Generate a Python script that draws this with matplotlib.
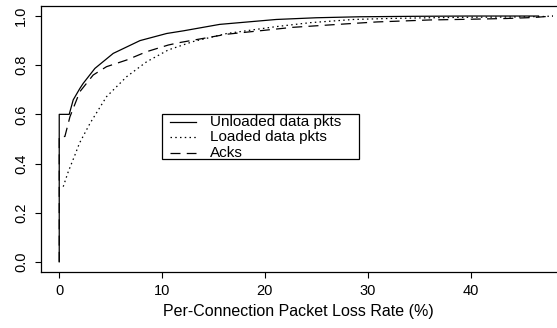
import matplotlib
matplotlib.use("Agg")
import matplotlib.pyplot as plt
from matplotlib.lines import Line2D
from matplotlib.patches import Rectangle

plt.rcParams['font.family'] = ['Liberation Sans', 'DejaVu Sans']

# 曲线数据
unloaded_x = [0, 0, 0.97, 1.36, 2.0, 2.33, 3.47, 5.25, 7.85, 10.45, 12.1, 15.6, 21.1, 25, 29.2, 35, 40, 46.6]
unloaded_y = [0, 0.6, 0.6, 0.659, 0.705, 0.726, 0.787, 0.848, 0.90, 0.929, 0.94, 0.966, 0.986, 0.993, 0.997, 0.999, 1.0, 1.0]

loaded_x = [0.39, 0.88, 1.53, 1.97, 3.0, 4.6, 6.55, 8.5, 10.6, 13, 16.3, 21.1, 24.4, 28.6, 32, 36, 40, 44, 47, 48]
loaded_y = [0.306, 0.367, 0.435, 0.483, 0.564, 0.672, 0.753, 0.814, 0.862, 0.896, 0.929, 0.957, 0.973, 0.986, 0.99, 0.993, 0.995, 0.996, 0.998, 1.0]

acks_x = [0, 0, 0.55, 1.04, 2.0, 3.3, 4.6, 6.55, 8.5, 10.6, 11.7, 16.3, 19.5, 22.7, 26, 28.6, 30.9, 33.5, 36, 38.7, 41.2, 43.5, 46.1, 48]
acks_y = [0, 0.51, 0.51, 0.59, 0.692, 0.76, 0.794, 0.821, 0.855, 0.882, 0.892, 0.926, 0.94, 0.954, 0.963, 0.97, 0.976, 0.98, 0.984, 0.986, 0.988, 0.99, 0.994, 1.0]

labels = ['Unloaded data pkts', 'Loaded data pkts', 'Acks']
xticks = [0, 10, 20, 30, 40]
yticks = [0.0, 0.2, 0.4, 0.6, 0.8, 1.0]

W, H = 557, 328
fig = plt.figure(figsize=(W / 100, H / 100), dpi=100)
ax = fig.add_axes([0.0731, 0.1717, 0.9269, 0.8109])

lw = 0.9
styles = [dict(), dict(dashes=(1.2, 2.6)), dict(dashes=(8, 5))]
series = [(unloaded_x, unloaded_y), (loaded_x, loaded_y), (acks_x, acks_y)]
for (xs, ys), st in zip(series, styles):
    ax.plot(xs, ys, color='black', lw=lw, **st)

ax.set_xlim(-1.8, 48.4)
ax.set_ylim(-0.04, 1.042)

ax.spines['right'].set_visible(False)
for s in ['left', 'top', 'bottom']:
    ax.spines[s].set_linewidth(0.9)

ax.set_xticks(xticks)
ax.set_yticks(yticks)
ax.set_yticklabels([f"{v:.1f}" for v in yticks], rotation=90, va='center')
ax.tick_params(direction='out', length=4.1, width=0.8, labelsize=10.5, pad=5)

ax.set_xlabel('Per-Connection Packet Loss Rate (%)', fontsize=11.5, labelpad=4)

# R风格图例, 手动绘制 (像素坐标 -> figure 坐标)
def fx(px):
    return px / W

def fy(py):
    return 1 - py / H

box_l, box_t, box_r, box_b = 162.3, 114.3, 359, 159.3
fig.patches.append(Rectangle((fx(box_l), fy(box_b)), fx(box_r) - fx(box_l), fy(box_t) - fy(box_b),
                             transform=fig.transFigure, facecolor='white', edgecolor='black',
                             lw=0.9, zorder=5))
row_y = [121.7, 137.3, 152.7]
for ry, lab, st in zip(row_y, labels, styles):
    fig.lines.append(Line2D([fx(170), fx(196)], [fy(ry), fy(ry)], transform=fig.transFigure,
                            color='black', lw=lw, zorder=6, **st))
    fig.text(fx(210), fy(ry), lab, fontsize=11, va='center', ha='left', zorder=6)

plt.savefig('out.png', dpi=100)
plt.close()
